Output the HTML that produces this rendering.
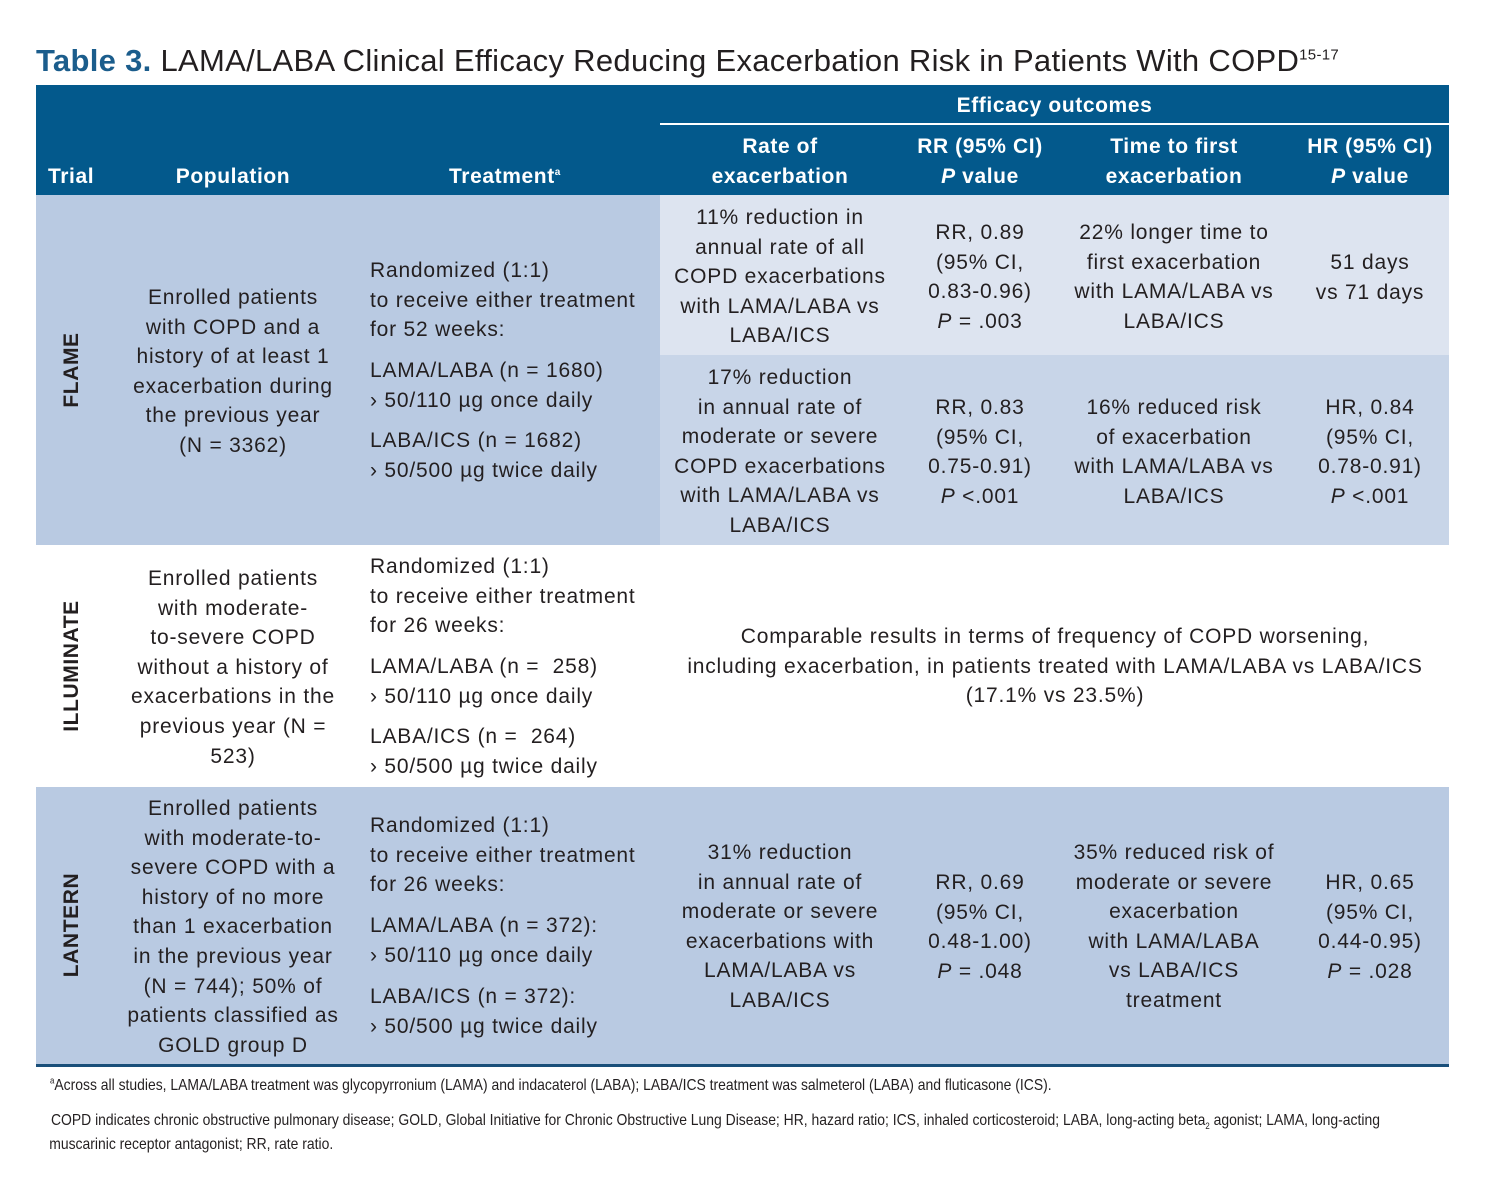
<!DOCTYPE html>
<html><head><meta charset="utf-8"><style>
body{margin:0;width:1485px;height:1200px;background:#fff;position:relative;overflow:hidden;font-family:"Liberation Sans",sans-serif;color:#231f20}
.a{position:absolute}
.t{position:absolute;font-size:21px;line-height:29.6px;white-space:nowrap;letter-spacing:0.8px}
.c{text-align:center}
.h{color:#fff;font-weight:bold;font-size:21px;line-height:29.6px;position:absolute;white-space:nowrap;letter-spacing:0.6px}
.rot{position:absolute;font-weight:bold;font-size:21px;transform:translate(-50%,-50%) rotate(-90deg);white-space:nowrap;letter-spacing:0.6px}
.fn{position:absolute;font-size:16px;line-height:24px;white-space:nowrap;transform:scaleX(0.87);transform-origin:left top}
sup,sub{line-height:0}
</style></head><body>
<div class="a" style="left:36px;top:43px;font-size:31px;white-space:nowrap;color:#231f20;letter-spacing:0.3px"><b style="color:#1b5d8c">Table 3.</b> LAMA/LABA Clinical Efficacy Reducing Exacerbation Risk in Patients With COPD<sup style="font-size:15px">15-17</sup></div>

<div class="a" style="left:36px;top:85px;width:1413px;height:110px;background:#03598c"></div>
<div class="a" style="left:660px;top:123px;width:789px;height:2px;background:#fff"></div>
<div class="h" style="left:660px;width:789px;top:91px;text-align:center">Efficacy outcomes</div>
<div class="h" style="left:48px;top:162px">Trial</div>
<div class="h c" style="left:133px;width:200px;top:162px">Population</div>
<div class="h c" style="left:405px;width:200px;top:162px">Treatment<sup style="font-size:10px;vertical-align:8px">a</sup></div>
<div class="h c" style="left:680px;width:200px;top:132px">Rate of<br>exacerbation</div>
<div class="h c" style="left:880px;width:200px;top:132px">RR (95% CI)<br><i>P</i> value</div>
<div class="h c" style="left:1074px;width:200px;top:132px">Time to first<br>exacerbation</div>
<div class="h c" style="left:1270px;width:200px;top:132px">HR (95% CI)<br><i>P</i> value</div>

<div class="a" style="left:36px;top:195px;width:624px;height:350px;background:#b9cae2"></div>
<div class="a" style="left:660px;top:195px;width:789px;height:160px;background:#dde4f0"></div>
<div class="a" style="left:660px;top:355px;width:789px;height:190px;background:#c8d5e8"></div>
<div class="a" style="left:36px;top:787px;width:1413px;height:278px;background:#b9cae2"></div>
<div class="a" style="left:36px;top:1064px;width:1413px;height:3px;background:#1a4f7a"></div>

<div class="rot" style="left:72px;top:370px">FLAME</div>
<div class="rot" style="left:72px;top:666px">ILLUMINATE</div>
<div class="rot" style="left:72px;top:925px">LANTERN</div>

<div class="t c" style="left:113px;width:240px;top:283px">Enrolled patients<br>with COPD and a<br>history of at least 1<br>exacerbation during<br>the previous year<br>(N = 3362)</div>
<div class="t" style="left:370px;top:256px">Randomized (1:1)<br>to receive either treatment<br>for 52 weeks:</div>
<div class="t" style="left:370px;top:356px">LAMA/LABA (n = 1680)<br>› 50/110 µg once daily</div>
<div class="t" style="left:370px;top:426px">LABA/ICS (n = 1682)<br>› 50/500 µg twice daily</div>
<div class="t c" style="left:660px;width:240px;top:203px">11% reduction in<br>annual rate of all<br>COPD exacerbations<br>with LAMA/LABA vs<br>LABA/ICS</div>
<div class="t c" style="left:880px;width:200px;top:218px">RR, 0.89<br>(95% CI,<br>0.83-0.96)<br><i>P</i> = .003</div>
<div class="t c" style="left:1054px;width:240px;top:218px">22% longer time to<br>first exacerbation<br>with LAMA/LABA vs<br>LABA/ICS</div>
<div class="t c" style="left:1270px;width:200px;top:248px">51 days<br>vs 71 days</div>
<div class="t c" style="left:660px;width:240px;top:363px">17% reduction<br>in annual rate of<br>moderate or severe<br>COPD exacerbations<br>with LAMA/LABA vs<br>LABA/ICS</div>
<div class="t c" style="left:880px;width:200px;top:393px">RR, 0.83<br>(95% CI,<br>0.75-0.91)<br><i>P</i> &lt;.001</div>
<div class="t c" style="left:1054px;width:240px;top:393px">16% reduced risk<br>of exacerbation<br>with LAMA/LABA vs<br>LABA/ICS</div>
<div class="t c" style="left:1270px;width:200px;top:393px">HR, 0.84<br>(95% CI,<br>0.78-0.91)<br><i>P</i> &lt;.001</div>

<div class="t c" style="left:113px;width:240px;top:564px">Enrolled patients<br>with moderate-<br>to-severe COPD<br>without a history of<br>exacerbations in the<br>previous year (N =<br>523)</div>
<div class="t" style="left:370px;top:552px">Randomized (1:1)<br>to receive either treatment<br>for 26 weeks:</div>
<div class="t" style="left:370px;top:652px">LAMA/LABA (n = &nbsp;258)<br>› 50/110 µg once daily</div>
<div class="t" style="left:370px;top:722px">LABA/ICS (n = &nbsp;264)<br>› 50/500 µg twice daily</div>
<div class="t c" style="left:605px;width:900px;top:622px">Comparable results in terms of frequency of COPD worsening,<br>including exacerbation, in patients treated with LAMA/LABA vs LABA/ICS<br>(17.1% vs 23.5%)</div>

<div class="t c" style="left:113px;width:240px;top:794px">Enrolled patients<br>with moderate-to-<br>severe COPD with a<br>history of no more<br>than 1 exacerbation<br>in the previous year<br>(N = 744); 50% of<br>patients classified as<br>GOLD group D</div>
<div class="t" style="left:370px;top:811px">Randomized (1:1)<br>to receive either treatment<br>for 26 weeks:</div>
<div class="t" style="left:370px;top:911px">LAMA/LABA (n = 372):<br>› 50/110 µg once daily</div>
<div class="t" style="left:370px;top:982px">LABA/ICS (n = 372):<br>› 50/500 µg twice daily</div>
<div class="t c" style="left:660px;width:240px;top:838px">31% reduction<br>in annual rate of<br>moderate or severe<br>exacerbations with<br>LAMA/LABA vs<br>LABA/ICS</div>
<div class="t c" style="left:880px;width:200px;top:868px">RR, 0.69<br>(95% CI,<br>0.48-1.00)<br><i>P</i> = .048</div>
<div class="t c" style="left:1054px;width:240px;top:838px">35% reduced risk of<br>moderate or severe<br>exacerbation<br>with LAMA/LABA<br>vs LABA/ICS<br>treatment</div>
<div class="t c" style="left:1270px;width:200px;top:868px">HR, 0.65<br>(95% CI,<br>0.44-0.95)<br><i>P</i> = .028</div>

<div class="fn" style="left:50px;top:1074px"><sup style="font-size:9px">a</sup>Across all studies, LAMA/LABA treatment was glycopyrronium (LAMA) and indacaterol (LABA); LABA/ICS treatment was salmeterol (LABA) and fluticasone (ICS).</div>
<div class="fn" style="left:51px;top:1109px">COPD indicates chronic obstructive pulmonary disease; GOLD, Global Initiative for Chronic Obstructive Lung Disease; HR, hazard ratio; ICS, inhaled corticosteroid; LABA, long-acting beta<sub style="font-size:9px">2</sub> agonist; LAMA, long-acting<br><span style="margin-left:-2px">muscarinic receptor antagonist; RR, rate ratio.</span></div>
</body></html>
